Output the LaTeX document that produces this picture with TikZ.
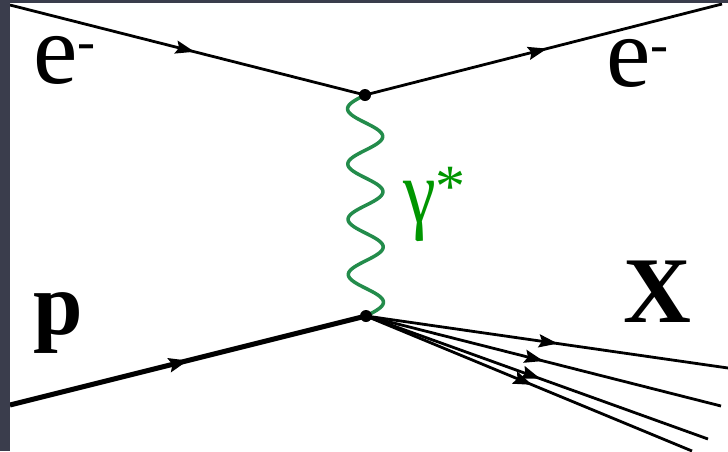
\documentclass[tikz,border=0pt]{standalone}
\usepackage{fontspec}
\setmainfont{Liberation Serif}
\newfontfamily\tnr{Liberation Serif}
\usetikzlibrary{decorations.markings,arrows.meta}
\definecolor{framegray}{RGB}{58,61,76}
\definecolor{photongreen}{RGB}{35,140,75}
\definecolor{labelgreen}{RGB}{0,150,0}
\tikzset{
  fermion/.style={line width=2.8pt, postaction={decorate},
    decoration={markings, mark=at position #1 with {\arrow{Stealth[length=19pt,width=13pt,inset=3pt]}}}},
  hadron/.style={line width=5pt, postaction={decorate},
    decoration={markings, mark=at position #1 with {\arrow{Stealth[length=19pt,width=14pt,inset=3pt]}}}},
  photon/.style={photongreen, line width=3.5pt, line join=round},
  vertexdot/.style={circle, fill=black, inner sep=0pt, minimum size=12pt},
  lbl/.style={anchor=base west, inner sep=0pt},
}
\begin{document}
\begin{tikzpicture}[x=1pt,y=-1pt]
\useasboundingbox (0,0) rectangle (728,451);
\fill[framegray] (0,0) rectangle (728,451);
\fill[white] (10,3) rectangle (728,451);
\begin{scope}
\clip (10,3) rectangle (728,451);
\coordinate (ein) at (10,5);
\coordinate (v1) at (365,95);
\coordinate (eout) at (722,4);
\coordinate (pin) at (10,405);
\coordinate (v2) at (366,316);
\coordinate (x1) at (728,368);
\coordinate (x2) at (721,406);
\coordinate (x3) at (708,439);
\coordinate (x4) at (692,451);
\draw[photon] plot[domain=0:1, samples=200, smooth] ({365+1*\x-17.5*sin(4*360*\x)}, {95+221*\x});
\draw[fermion=0.52] (ein) -- (v1);
\draw[fermion=0.51] (v1) -- (eout);
\draw[hadron=0.5] (pin) -- (v2);
\draw[fermion=0.53] (v2) -- (x1);
\draw[fermion=0.50] (v2) -- (x2);
\draw[fermion=0.51] (v2) -- (x3);
\draw[fermion=0.51] (v2) -- (x4);
\node[vertexdot] (d1) at (v1) {};
\node[vertexdot] (d2) at (v2) {};
\end{scope}
\node[lbl, font=\tnr\fontsize{100}{100}\selectfont] (eL) at (33,83) {e\raisebox{24pt}{\fontsize{54}{54}\selectfont -}};
\node[lbl, font=\tnr\fontsize{100}{100}\selectfont] (eR) at (606,86) {e\raisebox{24pt}{\fontsize{54}{54}\selectfont -}};
\node[lbl, font=\tnr\fontsize{89}{89}\selectfont\bfseries] (p) at (33,334) {p};
\node[lbl, font=\tnr\fontsize{94}{94}\selectfont\bfseries] (X) at (623,322) {X};
\node[lbl, text=labelgreen, font=\tnr\fontsize{90}{90}\selectfont] (g) at (403,222) {\scalebox{0.82}[1]{γ}\raisebox{16pt}{\fontsize{60}{60}\selectfont *}};
\end{tikzpicture}
\end{document}
